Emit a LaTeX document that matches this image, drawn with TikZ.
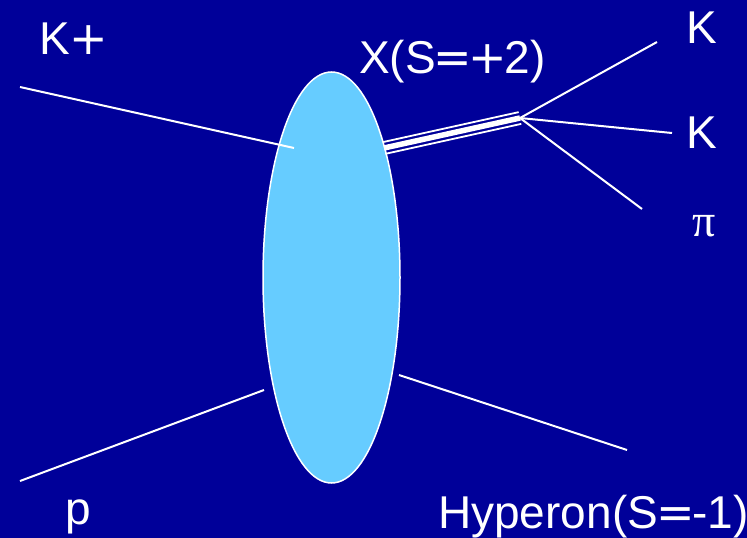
\documentclass[tikz,border=0pt]{standalone}
\usepackage{fontspec}
\setmainfont{Liberation Sans}
\newfontfamily\greekfont{Liberation Serif}
\newfontfamily\symfont{DejaVu Sans}
\usetikzlibrary{calc,shapes.geometric}
\definecolor{bgblue}{RGB}{0,0,153}
\definecolor{blobblue}{RGB}{102,204,255}
\newcommand{\myeq}{\kern-2pt{\symfont =}\kern-2pt}
\newcommand{\myplus}{\kern-2pt{\symfont +}\kern-2pt}
\tikzset{
  lbl/.style={text=white, inner sep=0pt, anchor=base west, font=\fontsize{46}{50}\selectfont},
  ln/.style={draw=white, line width=2pt},
  thinln/.style={draw=white, line width=1.8pt},
  thickln/.style={draw=white, line width=5.5pt}
}
\begin{document}
\begin{tikzpicture}[x=1pt,y=-1pt]
  \fill[bgblue] (0,0) rectangle (747,538);
  \useasboundingbox (0,0) rectangle (747,538);
  % blob
  \node[ellipse, draw=white, line width=1.5pt, fill=blobblue, minimum width=137pt, minimum height=411pt, inner sep=0pt] (blob) at (331.5,277.5) {};
  % coordinates
  \coordinate (kin) at (20,87);
  \coordinate (kend) at (294,148);
  \coordinate (pin) at (20,481);
  \coordinate (pend) at (264,390);
  \coordinate (hstart) at (399,375);
  \coordinate (hend) at (627,450);
  \coordinate (xs) at (384,148);
  \coordinate (xv) at (520,118);
  \coordinate (d1) at (657,42);
  \coordinate (d2) at (672,133);
  \coordinate (d3) at (642,209);
  % incoming / outgoing lines
  \draw[ln] (kin) -- (kend);
  \draw[ln] (pin) -- (pend);
  \draw[ln] (hstart) -- (hend);
  % triple line for X
  \draw[thickln] (xs) -- (xv);
  \draw[thinln] ($(xs)!6pt!90:(xv)$) -- ($(xv)!6pt!-90:(xs)$);
  \draw[thinln] ($(xs)!6pt!-90:(xv)$) -- ($(xv)!6pt!90:(xs)$);
  % decay lines
  \draw[ln] (xv) -- (d1);
  \draw[ln] (xv) -- (d2);
  \draw[ln] (xv) -- (d3);
  % labels
  \node[lbl] (lkp) at (39,54) {K\kern2pt\myplus};
  \node[lbl] (lx) at (359,73) {X(S\myeq\myplus 2)};
  \node[lbl] (lk1) at (686,43) {K};
  \node[lbl] (lk2) at (686,148) {K};
  \node[lbl] (lpi) at (692,236) {\greekfont π};
  \node[lbl] (lp) at (65,524) {p};
  \node[lbl] (lh) at (438,528) {Hyperon(S\myeq-1)};
\end{tikzpicture}
\end{document}
